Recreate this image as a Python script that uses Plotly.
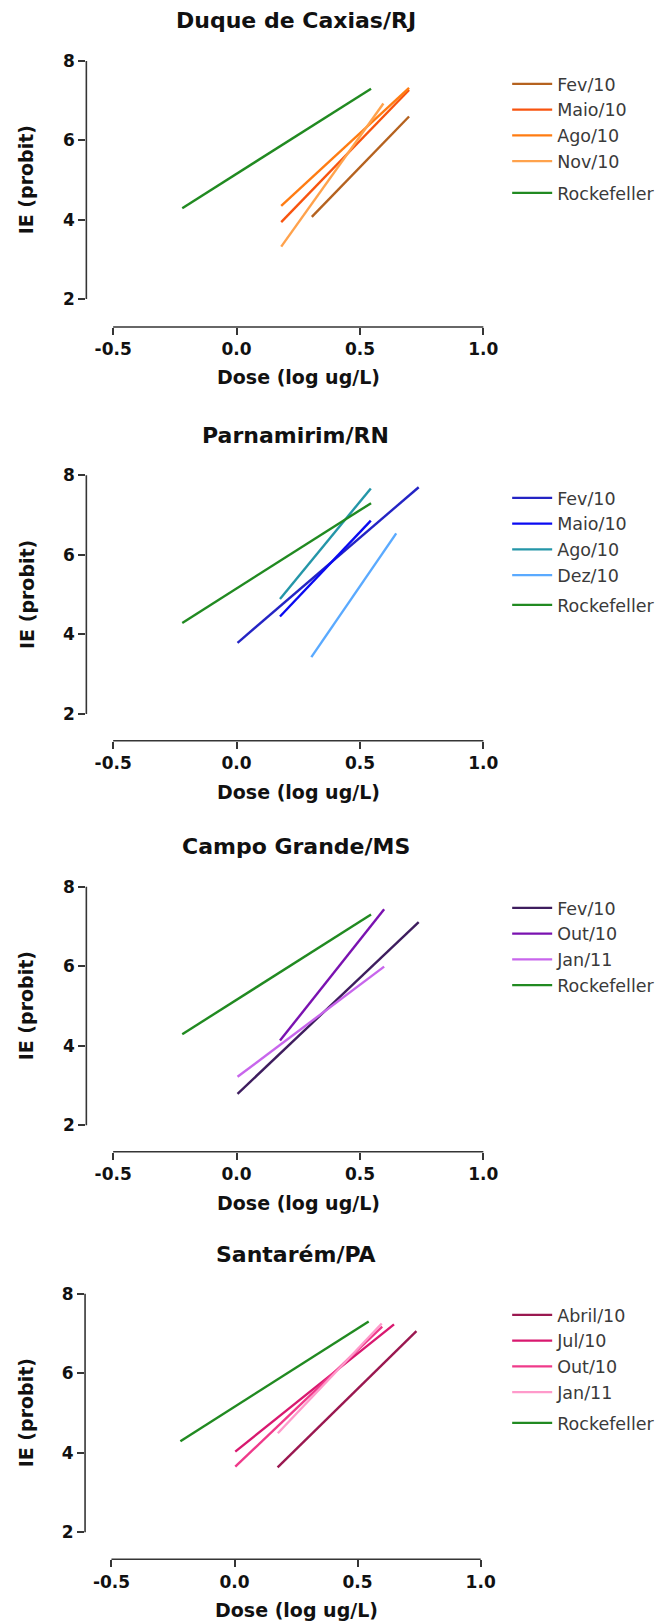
import plotly.graph_objects as go

W, H = 668, 1622

# ---- data: probit regression lines, dose (log ug/L) vs IE (probit) ----
DOSE_TICKS = [-0.5, 0.0, 0.5, 1.0]
DOSE_TICK_LABELS = ["-0.5", "0.0", "0.5", "1.0"]
IE_TICKS = [2, 4, 6, 8]
IE_TICK_LABELS = ["2", "4", "6", "8"]

ROCK_LABEL = "Rockefeller"
ROCK_DOSE = [-0.22, 0.545]
ROCK_IE = [4.29, 7.30]

CAXIAS_TITLE = "Duque de Caxias/RJ"
CAXIAS_NAMES = ["Fev/10", "Maio/10", "Ago/10", "Nov/10"]
CAXIAS_DOSE = [[0.305, 0.699], [0.181, 0.699], [0.181, 0.699], [0.181, 0.595]]
CAXIAS_IE = [[4.07, 6.60], [3.94, 7.27], [4.35, 7.32], [3.32, 6.93]]

PARNA_TITLE = "Parnamirim/RN"
PARNA_NAMES = ["Fev/10", "Maio/10", "Ago/10", "Dez/10"]
PARNA_DOSE = [[0.004, 0.738], [0.176, 0.544], [0.176, 0.544], [0.303, 0.647]]
PARNA_IE = [[3.79, 7.70], [4.45, 6.86], [4.89, 7.67], [3.43, 6.54]]

CAMPO_TITLE = "Campo Grande/MS"
CAMPO_NAMES = ["Fev/10", "Out/10", "Jan/11"]
CAMPO_DOSE = [[0.004, 0.738], [0.176, 0.598], [0.004, 0.598]]
CAMPO_IE = [[2.79, 7.11], [4.13, 7.43], [3.22, 5.99]]

SANTAREM_TITLE = "Santarém/PA"
SANTAREM_NAMES = ["Abril/10", "Jul/10", "Out/10", "Jan/11"]
SANTAREM_DOSE = [[0.175, 0.739], [0.003, 0.648], [0.003, 0.600], [0.176, 0.598]]
SANTAREM_IE = [[3.63, 7.06], [4.03, 7.23], [3.65, 7.17], [4.49, 7.25]]

# ---- styles ----
ROCK_COLOR = "#218a21"
CAXIAS_COLORS = ["#b5621f", "#f8540f", "#ff7c12", "#ffa24c"]
PARNA_COLORS = ["#2424c4", "#0a0af2", "#2496a8", "#5aaaff"]
CAMPO_COLORS = ["#3e1d5e", "#7a12b0", "#c866ec"]
SANTAREM_COLORS = ["#9a1850", "#d8186f", "#ef3a8a", "#ff9acb"]

FONT = "DejaVu Sans"
AXIS_COLOR = "#353535"
TEXT_COLOR = "#111111"

# pixel anchors of each panel: where tick 8 / tick 2 sit, x-axis baseline,
# y-axis line, and where dose -0.5 / 1.0 sit
GEOM = [
    dict(y8=61.0, y2=299.0, bottom=327.0, title=21.0, xtitle=377.0, left=87.0, xm=114.0, x1=487.0, leg=84.0, gap=6),
    dict(y8=475.3, y2=714.0, bottom=740.7, title=435.0, xtitle=791.7, left=87.0, xm=114.0, x1=487.0, leg=498.0, gap=4),
    dict(y8=886.7, y2=1125.3, bottom=1151.7, title=847.0, xtitle=1203.3, left=87.0, xm=114.0, x1=487.0, leg=908.0, gap=0),
    dict(y8=1293.7, y2=1532.3, bottom=1559.3, title=1254.0, xtitle=1610.0, left=85.7, xm=112.3, x1=484.3, leg=1315.0, gap=5),
]

PANELS = [
    (CAXIAS_TITLE, CAXIAS_NAMES, CAXIAS_DOSE, CAXIAS_IE, CAXIAS_COLORS),
    (PARNA_TITLE, PARNA_NAMES, PARNA_DOSE, PARNA_IE, PARNA_COLORS),
    (CAMPO_TITLE, CAMPO_NAMES, CAMPO_DOSE, CAMPO_IE, CAMPO_COLORS),
    (SANTAREM_TITLE, SANTAREM_NAMES, SANTAREM_DOSE, SANTAREM_IE, SANTAREM_COLORS),
]

fig = go.Figure()
layout = dict(
    width=W, height=H,
    margin=dict(l=0, r=0, t=0, b=0),
    paper_bgcolor="white", plot_bgcolor="white",
    showlegend=True,
    font=dict(family=FONT, color=TEXT_COLOR),
)
shapes = []
annotations = []

for i, (title, names, doses, ies, colors) in enumerate(PANELS):
    k = i + 1
    g = GEOM[i]
    xa = "x" if k == 1 else f"x{k}"
    ya = "y" if k == 1 else f"y{k}"
    leg = "legend" if k == 1 else f"legend{k}"

    for name, d, e, c in zip(names, doses, ies, colors):
        fig.add_trace(go.Scatter(
            x=d, y=e, mode="lines", name=name,
            line=dict(color=c, width=2.4),
            xaxis=xa, yaxis=ya, legend=leg, legendgroup=f"p{k}a",
            hoverinfo="skip",
        ))
    fig.add_trace(go.Scatter(
        x=ROCK_DOSE, y=ROCK_IE, mode="lines", name=ROCK_LABEL,
        line=dict(color=ROCK_COLOR, width=2.4),
        xaxis=xa, yaxis=ya, legend=leg, legendgroup=f"p{k}b",
        hoverinfo="skip",
    ))

    # axis ranges derived from pixel anchors
    ppx = (g["x1"] - g["xm"]) / 1.5
    right_px = g["x1"] + 10
    x_lo = -0.5 - (g["xm"] - g["left"]) / ppx
    x_hi = 1.0 + (right_px - g["x1"]) / ppx
    ppy = (g["y2"] - g["y8"]) / 6.0
    top_px = g["y8"] - 14
    y_lo = 2.0 - (g["bottom"] - g["y2"]) / ppy
    y_hi = 8.0 + (g["y8"] - top_px) / ppy

    axis_common = dict(
        showgrid=False, zeroline=False, showline=False,
        ticks="outside", ticklen=7, tickwidth=1.5, tickcolor=AXIS_COLOR,
        tickfont=dict(family=FONT, size=17, color=TEXT_COLOR, weight="bold"),
        fixedrange=True,
    )
    layout["xaxis" if k == 1 else f"xaxis{k}"] = dict(
        axis_common, domain=[g["left"] / W, right_px / W], range=[x_lo, x_hi],
        anchor=ya, tickvals=DOSE_TICKS, ticktext=DOSE_TICK_LABELS,
    )
    layout["yaxis" if k == 1 else f"yaxis{k}"] = dict(
        axis_common, domain=[1 - g["bottom"] / H, 1 - top_px / H], range=[y_lo, y_hi],
        anchor=xa, tickvals=IE_TICKS, ticktext=IE_TICK_LABELS,
    )

    # detached axis lines spanning only the tick range
    shapes.append(dict(type="line", xref=xa, yref=f"{ya} domain",
                       x0=DOSE_TICKS[0], x1=DOSE_TICKS[-1], y0=0, y1=0,
                       line=dict(color=AXIS_COLOR, width=1.6)))
    shapes.append(dict(type="line", xref=f"{xa} domain", yref=ya,
                       x0=0, x1=0, y0=IE_TICKS[0], y1=IE_TICKS[-1],
                       line=dict(color=AXIS_COLOR, width=1.6)))

    annotations.append(dict(
        text=title, xref="paper", yref="paper", x=298 / W, y=1 - g["title"] / H,
        xanchor="center", yanchor="middle", showarrow=False,
        font=dict(family=FONT, size=22, color=TEXT_COLOR, weight="bold"),
    ))
    annotations.append(dict(
        text="Dose (log ug/L)", xref="paper", yref="paper",
        x=(g["xm"] + g["x1"]) / 2 / W, y=1 - g["xtitle"] / H,
        xanchor="center", yanchor="middle", showarrow=False,
        font=dict(family=FONT, size=19, color=TEXT_COLOR, weight="bold"),
    ))
    annotations.append(dict(
        text="IE (probit)", xref="paper", yref="paper",
        x=26.5 / W, y=1 - (g["y8"] + g["y2"]) / 2 / H, textangle=-90,
        xanchor="center", yanchor="middle", showarrow=False,
        font=dict(family=FONT, size=19, color=TEXT_COLOR, weight="bold"),
    ))

    layout[leg] = dict(
        x=511 / W, xanchor="left", y=1 - (g["leg"] - 18) / H, yanchor="top",
        bgcolor="rgba(0,0,0,0)", borderwidth=0,
        font=dict(family=FONT, size=17.5, color="#3a3a3a"),
        traceorder="grouped", tracegroupgap=g["gap"], itemwidth=40,
    )

layout["shapes"] = shapes
layout["annotations"] = annotations
fig.update_layout(**layout)
fig.write_html("out.html")
